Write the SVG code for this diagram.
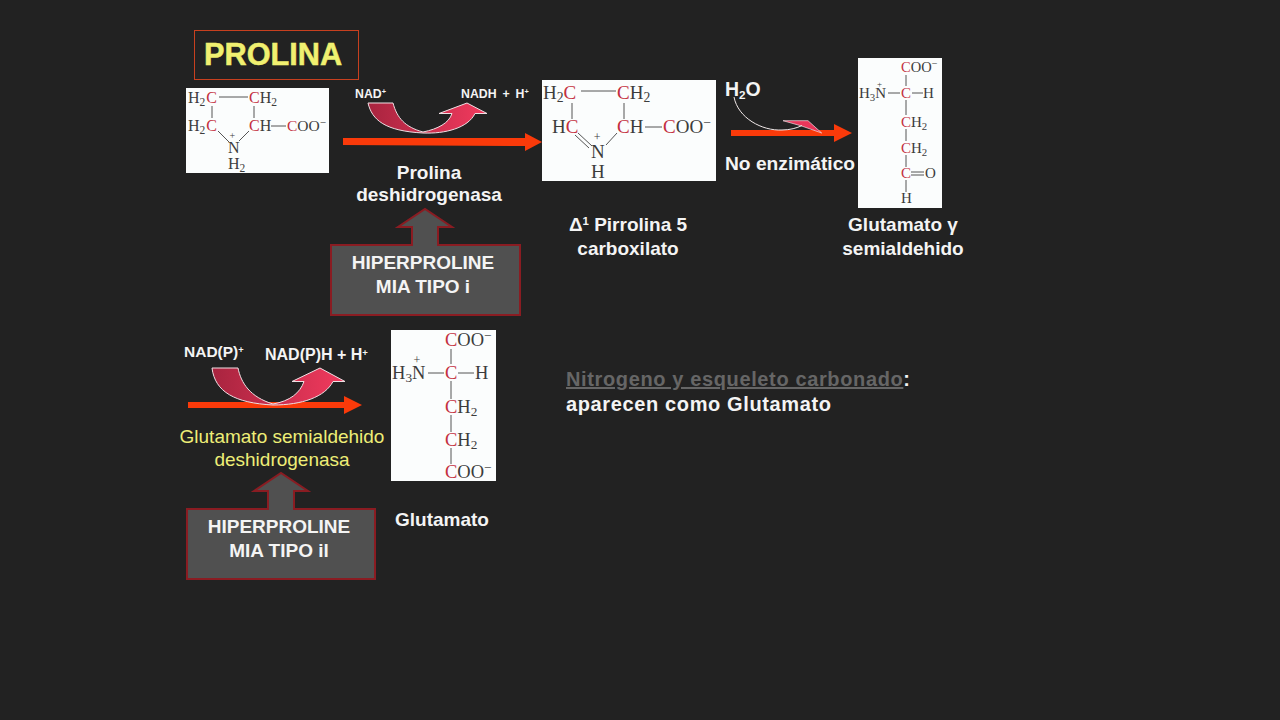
<svg xmlns="http://www.w3.org/2000/svg" width="1280" height="720" viewBox="0 0 1280 720">
<style>
text{font-family:"Liberation Sans",Arial,sans-serif;font-weight:bold;fill:#f4f4f4;font-size:19px}
.c{text-anchor:middle}
.y{fill:#eeee77;font-weight:normal;font-size:19px}
.s{font-size:60%}
.mol{fill:#fbfdfd}
.m text{font-family:"Liberation Serif","Times New Roman",serif;font-weight:normal;fill:#3c3c3c}
.m .s{font-size:72%}
.m .r{fill:#c4303f}
.m line{stroke:#555;stroke-width:1}
.red{fill:#fa3a0a}
.curl{stroke:#f0e0e4;stroke-width:1}
.blk{fill:#505050;stroke:#8a1c22;stroke-width:2}
</style>
<defs>
<linearGradient id="g" x1="0" y1="0" x2="1" y2="0"><stop offset="0" stop-color="#a8243f"/><stop offset="1" stop-color="#f23a5e"/></linearGradient>
</defs>
<rect width="1280" height="720" fill="#222222"/>

<g id="title">
<rect x="194.500" y="30.500" width="164" height="49" fill="none" stroke="#c8401f" stroke-width="1"/>
<text x="204" y="65" style="font-size:30.700px;fill:#f0f070;stroke:#f0f070;stroke-width:.5">PROLINA</text>
</g>

<g id="prolina" class="m">
<rect class="mol" x="186" y="88" width="143" height="85"/>
<line x1="219" y1="97" x2="248" y2="97"/><line x1="212" y1="106" x2="212" y2="118"/><line x1="254" y1="106" x2="254" y2="118"/><line x1="218" y1="131" x2="229" y2="142"/><line x1="249" y1="131" x2="239" y2="141"/><line x1="271" y1="126" x2="286" y2="126"/>
<text x="188" y="103" style="font-size:16px">H<tspan class="s" dy="3">2</tspan><tspan class="r" dy="-3" dx="1">C</tspan></text>
<text x="249" y="103" style="font-size:16px"><tspan class="r">C</tspan>H<tspan class="s" dy="3">2</tspan></text>
<text x="188" y="131" style="font-size:16px">H<tspan class="s" dy="3">2</tspan><tspan class="r" dy="-3" dx="1">C</tspan></text>
<text x="249" y="131" style="font-size:16px"><tspan class="r">C</tspan>H</text>
<text x="287" y="131" style="font-size:15.500px"><tspan class="r">C</tspan>OO<tspan class="s" dy="-5">−</tspan></text>
<text x="228" y="153" style="font-size:16px">N<tspan dx="-10" dy="-14" style="font-size:10px">+</tspan></text>
<text x="228" y="169" style="font-size:16px">H<tspan class="s" dy="3">2</tspan></text>
</g>

<g id="pirrolina" class="m">
<rect class="mol" x="542" y="80" width="174" height="101"/>
<line x1="581" y1="91" x2="616" y2="91"/><line x1="572" y1="103" x2="572" y2="119"/><line x1="624" y1="103" x2="624" y2="119"/><line x1="578" y1="133" x2="592" y2="146"/><line x1="575" y1="135" x2="589" y2="148"/><line x1="617" y1="133" x2="606" y2="145"/><line x1="645" y1="127" x2="662" y2="127"/>
<text x="543" y="99" style="font-size:19px">H<tspan class="s" dy="3">2</tspan><tspan class="r" dy="-3">C</tspan></text>
<text x="617" y="99" style="font-size:19px"><tspan class="r">C</tspan>H<tspan class="s" dy="3">2</tspan></text>
<text x="552" y="133" style="font-size:19px">H<tspan class="r">C</tspan></text>
<text x="617" y="133" style="font-size:19px"><tspan class="r">C</tspan>H</text>
<text x="663" y="133" style="font-size:19px"><tspan class="r">C</tspan>OO<tspan class="s" dy="-6">−</tspan></text>
<text x="591" y="158" style="font-size:19px">N<tspan dx="-11" dy="-17" style="font-size:12px">+</tspan></text>
<text x="591" y="178" style="font-size:19px">H</text>
</g>

<g id="semialdehido" class="m">
<rect class="mol" x="858" y="58" width="84" height="150"/>
<line x1="906" y1="75" x2="906" y2="86"/><line x1="888" y1="93" x2="900" y2="93"/><line x1="912" y1="93" x2="923" y2="93"/><line x1="906" y1="100" x2="906" y2="115"/><line x1="906" y1="129" x2="906" y2="141"/><line x1="906" y1="155" x2="906" y2="167"/><line x1="906" y1="180" x2="906" y2="192"/><line x1="911" y1="172" x2="924" y2="172"/><line x1="911" y1="175" x2="924" y2="175"/>
<text x="901" y="72" style="font-size:14.500px"><tspan class="r">C</tspan>OO<tspan class="s" dy="-5">−</tspan></text>
<text x="859" y="98" style="font-size:15px">H<tspan class="s" dy="3">3</tspan><tspan dy="-3">N</tspan><tspan dx="-9" dy="-11" style="font-size:9px">+</tspan></text>
<text x="901" y="98" style="font-size:15px" class="r">C</text>
<text x="923" y="98" style="font-size:15px">H</text>
<text x="901" y="127" style="font-size:15px"><tspan class="r">C</tspan>H<tspan class="s" dy="3">2</tspan></text>
<text x="901" y="153" style="font-size:15px"><tspan class="r">C</tspan>H<tspan class="s" dy="3">2</tspan></text>
<text x="901" y="178" style="font-size:15px" class="r">C</text>
<text x="925" y="178" style="font-size:15px">O</text>
<text x="901" y="203" style="font-size:15px">H</text>
</g>

<g id="glutamato" class="m">
<rect class="mol" x="391" y="330" width="105" height="151"/>
<line x1="451" y1="349" x2="451" y2="364"/><line x1="428" y1="373" x2="444" y2="373"/><line x1="458" y1="373" x2="474" y2="373"/><line x1="451" y1="381" x2="451" y2="399"/><line x1="451" y1="415" x2="451" y2="432"/><line x1="451" y1="448" x2="451" y2="464"/>
<text x="445" y="346" style="font-size:18.500px"><tspan class="r">C</tspan>OO<tspan class="s" dy="-6">−</tspan></text>
<text x="392" y="379" style="font-size:18.500px">H<tspan class="s" dy="3">3</tspan><tspan dy="-3">N</tspan><tspan dx="-12" dy="-15" style="font-size:12px">+</tspan></text>
<text x="445" y="379" style="font-size:18.500px" class="r">C</text>
<text x="475" y="379" style="font-size:18.500px">H</text>
<text x="445" y="413" style="font-size:18.500px"><tspan class="r">C</tspan>H<tspan class="s" dy="3">2</tspan></text>
<text x="445" y="446" style="font-size:18.500px"><tspan class="r">C</tspan>H<tspan class="s" dy="3">2</tspan></text>
<text x="445" y="478" style="font-size:18.500px"><tspan class="r">C</tspan>OO<tspan class="s" dy="-6">−</tspan></text>
</g>

<g id="connectors">
<path class="red" d="M343,138 L525,138 L525,133 L542,142 L525,151 L525,146 L343,145 Z"/>
<path class="curl" fill="url(#g)" d="M368,103 L393,103 C397,118 405,127 423,132 C438,129 449,123 452,113.500 L439,113.500 L467,103 L487,113.500 L475,113.500 C468,128 445,134 423,133 C385,131 372,120 368,103 Z"/>
<path class="red" d="M731,130 L834,130 L834,124 L852,133 L834,142 L834,136 L731,136 Z"/>
<path class="curl" style="stroke-width:.7" fill="#e8365a" d="M783,120.700 L808,120.700 L821.700,133 L801.700,126 Z"/>
<path d="M734,97 C738,118 762,131 782,130 C790,130 797,128 802,125.500" fill="none" stroke="#f0e8e8" stroke-width="1"/>
<path class="red" d="M188,402 L344,402 L344,396 L362,405 L344,414 L344,408 L188,408 Z"/>
<path class="curl" fill="url(#g)" d="M212,368 L238,368 C241,383 250,397 273,404 C290,401 300,393 304,381.500 L292,381.500 L320,368 L345,381.500 L333,381.500 C325,397 302,405 273,405 C235,403 215,392 212,368 Z"/>
</g>

<g id="hiper1">
<path class="blk" d="M331,245 L412,245 L412,227 L398,227 L425,209 L452,227 L438,227 L438,245 L520,245 L520,315 L331,315 Z"/>
<text class="c" x="423" y="269">HIPERPROLINE</text>
<text class="c" x="423" y="293">MIA TIPO i</text>
</g>

<g id="hiper2">
<path class="blk" d="M187,509 L268,509 L268,491 L254,491 L281,473 L308,491 L294,491 L294,509 L375,509 L375,579 L187,579 Z"/>
<text class="c" x="279" y="533">HIPERPROLINE</text>
<text class="c" x="279" y="557">MIA TIPO il</text>
</g>

<g id="labels">
<text x="355" y="98" style="font-size:12.300px">NAD<tspan class="s" dy="-4">+</tspan></text>
<text x="461" y="98" style="font-size:12.300px;word-spacing:2.500px">NADH + H<tspan class="s" dy="-4">+</tspan></text>
<text class="c" x="429" y="179">Prolina</text>
<text class="c" x="429" y="201">deshidrogenasa</text>
<text x="725" y="96" style="font-size:19.500px">H<tspan class="s" dy="3">2</tspan><tspan dy="-3">O</tspan></text>
<text x="725" y="170" style="font-size:19.200px">No enzimático</text>
<text class="c" x="628" y="231">Δ<tspan class="s" dy="-6">1</tspan><tspan dy="6"> Pirrolina 5</tspan></text>
<text class="c" x="628" y="255">carboxilato</text>
<text class="c" x="903" y="231">Glutamato γ</text>
<text class="c" x="903" y="255">semialdehido</text>
<text x="184" y="357" style="font-size:15.500px">NAD(P)<tspan class="s" dy="-4">+</tspan></text>
<text x="265" y="360" style="font-size:16px">NAD(P)H + H<tspan class="s" dy="-4">+</tspan></text>
<text class="c y" x="282" y="443">Glutamato semialdehido</text>
<text class="c y" x="282" y="466">deshidrogenasa</text>
<text x="395" y="526">Glutamato</text>
<text x="566" y="386" style="font-size:20px;letter-spacing:.63px"><tspan style="fill:#666666;text-decoration:underline">Nitrogeno y esqueleto carbonado</tspan>:</text>
<text x="566" y="411" style="font-size:20px;letter-spacing:.63px">aparecen como Glutamato</text>
</g>
</svg>
